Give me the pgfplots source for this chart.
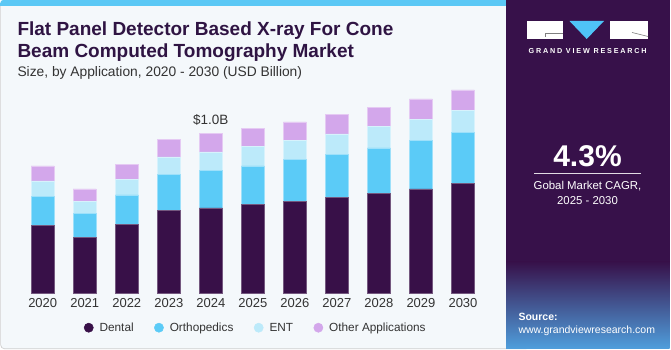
\documentclass[border=0pt]{standalone}
\usepackage{fontspec}
\setmainfont{Liberation Sans}
\usepackage{pgfplots}
\usepackage{pgfplotstable}
\pgfplotsset{compat=1.18}
\definecolor{bgc}{HTML}{F4F8FB}
\definecolor{topbar}{HTML}{5BC8F5}
\definecolor{panel}{HTML}{37114A}
\definecolor{dental}{HTML}{381048}
\definecolor{ortho}{HTML}{5BCBF7}
\definecolor{ent}{HTML}{BCEAFA}
\definecolor{other}{HTML}{D3A7EB}
\definecolor{titlec}{HTML}{2F1443}
\definecolor{txt}{HTML}{333333}
\definecolor{bord}{HTML}{CFCFCF}
\definecolor{logoblue}{HTML}{4FC3F7}
\definecolor{srcblue}{HTML}{4F9EDC}

\pgfplotstableread{
x dental ortho ent other
0 0.424 0.182 0.098 0.094
1 0.351 0.150 0.077 0.077
2 0.432 0.185 0.098 0.092
3 0.518 0.226 0.111 0.111
4 0.536 0.234 0.117 0.113
5 0.555 0.244 0.123 0.113
6 0.578 0.259 0.123 0.115
7 0.601 0.271 0.127 0.121
8 0.628 0.284 0.132 0.123
9 0.655 0.301 0.136 0.127
10 0.687 0.320 0.138 0.130
}\datatable

\begin{document}
\begin{tikzpicture}[x=1pt,y=1pt]
\useasboundingbox (0,0) rectangle (671,350);
\fill[white] (0,0) rectangle (671,350);
% left panel
\filldraw[fill=bgc, draw=bord, line width=0.7pt, rounded corners=4pt] (0.6,1.2) rectangle (530,349.4);
\fill[topbar, rounded corners=3pt] (0.3,344.3) rectangle (530,350);
\fill[topbar] (0.3,344.3) rectangle (530,347);
% right panel
\fill[panel] (506,1.5) rectangle (669.5,350);
\shade[top color=panel, bottom color=srcblue] (506,1.5) rectangle (669.5,88);
% logo
\fill[white] (527.3,311) rectangle (562.7,329);
\draw[gray, line width=0.6pt] (545,316.5) -- (545,312.5) (545,316.5) -- (562.7,316.5);
\fill[logoblue] (569.5,329) -- (604,329) -- (586.7,311) -- cycle;
\fill[white] (609.5,311) rectangle (648,329);
\draw[gray, line width=0.6pt] (632,317.5) -- (648,313.5);
\node[anchor=base, inner sep=0, text=white, font=\bfseries\fontsize{7.2}{8}\selectfont\addfontfeature{LetterSpace=25}] at (587.6,296.7) {GRAND VIEW RESEARCH};
% CAGR
\node[anchor=base, inner sep=0, text=white, font=\bfseries\fontsize{30}{32}\selectfont] at (587.5,183.3) {4.3\%};
\draw[white!85!panel, line width=0.8pt] (534,177) -- (641,177);
\node[anchor=base, inner sep=0, text=white, font=\fontsize{11.4}{13}\selectfont] at (587.5,160) {Gobal Market CAGR,};
\node[anchor=base, inner sep=0, text=white, font=\fontsize{11.4}{13}\selectfont] at (587.5,145) {2025 - 2030};
\node[anchor=base west, inner sep=0, text=white, font=\bfseries\fontsize{10.5}{12}\selectfont] at (518.3,29.3) {Source:};
\node[anchor=base west, inner sep=0, text=white, font=\fontsize{10.5}{12}\selectfont] at (518.3,16.5) {www.grandviewresearch.com};
% titles
\node[anchor=base west, inner sep=0, text=titlec, font=\bfseries\fontsize{19}{22}\selectfont] at (17.3,314) {Flat Panel Detector Based X-ray For Cone};
\node[anchor=base west, inner sep=0, text=titlec, font=\bfseries\fontsize{19}{22}\selectfont] at (17.3,292.7) {Beam Computed Tomography Market};
\node[anchor=base west, inner sep=0, text=txt, font=\fontsize{13.8}{16}\selectfont] at (17.3,273.3) {Size, by Application, 2020 - 2030 (USD Billion)};

\begin{axis}[
  at={(21.7pt,56.7pt)}, anchor=south west, scale only axis,
  width=462.3pt, height=223.4pt,
  xmin=-0.5, xmax=10.5, ymin=0, ymax=1.4,
  ybar stacked, bar width=23pt,
  axis line style={draw=none}, major tick length=0pt, ytick=\empty,
  xtick={0,1,2,3,4,5,6,7,8,9,10},
  xticklabels={2020,2021,2022,2023,2024,2025,2026,2027,2028,2029,2030},
  xticklabel style={anchor=base, yshift=-14.7pt, font=\fontsize{13}{15}\selectfont, text=txt},
  clip=false,
  legend columns=4,
  legend style={at={(0.1341,-0.154)}, anchor=west, draw=none, fill=none, inner sep=0pt,
    font=\fontsize{11.8}{13}\selectfont, text=txt,
    nodes={inner sep=0pt},
    /tikz/every odd column/.append style={column sep=6pt},
    /tikz/every even column/.append style={column sep=20.4pt}},
]
\addplot[fill=dental, draw=white!30!dental, line width=0.5pt, legend image code/.code={\fill[dental] (4.6pt,0pt) circle (4.6pt);}] table[x=x,y=dental]{\datatable};
\addplot[fill=ortho, draw=white!40!ortho, line width=0.5pt, legend image code/.code={\fill[ortho] (4.6pt,0pt) circle (4.6pt);}] table[x=x,y=ortho]{\datatable};
\addplot[fill=ent, draw=white!40!ent, line width=0.5pt, legend image code/.code={\fill[ent] (4.6pt,0pt) circle (4.6pt);}] table[x=x,y=ent]{\datatable};
\addplot[fill=other, draw=white!40!other, line width=0.5pt, legend image code/.code={\fill[other] (4.6pt,0pt) circle (4.6pt);}] table[x=x,y=other]{\datatable};
\legend{Dental,Orthopedics,ENT,Other Applications}
\node[anchor=base, inner sep=0, text=txt, font=\fontsize{13.5}{15}\selectfont] at (axis cs:4,1.0) [yshift=9.7pt] {\$1.0B};
\end{axis}
\end{tikzpicture}
\end{document}
